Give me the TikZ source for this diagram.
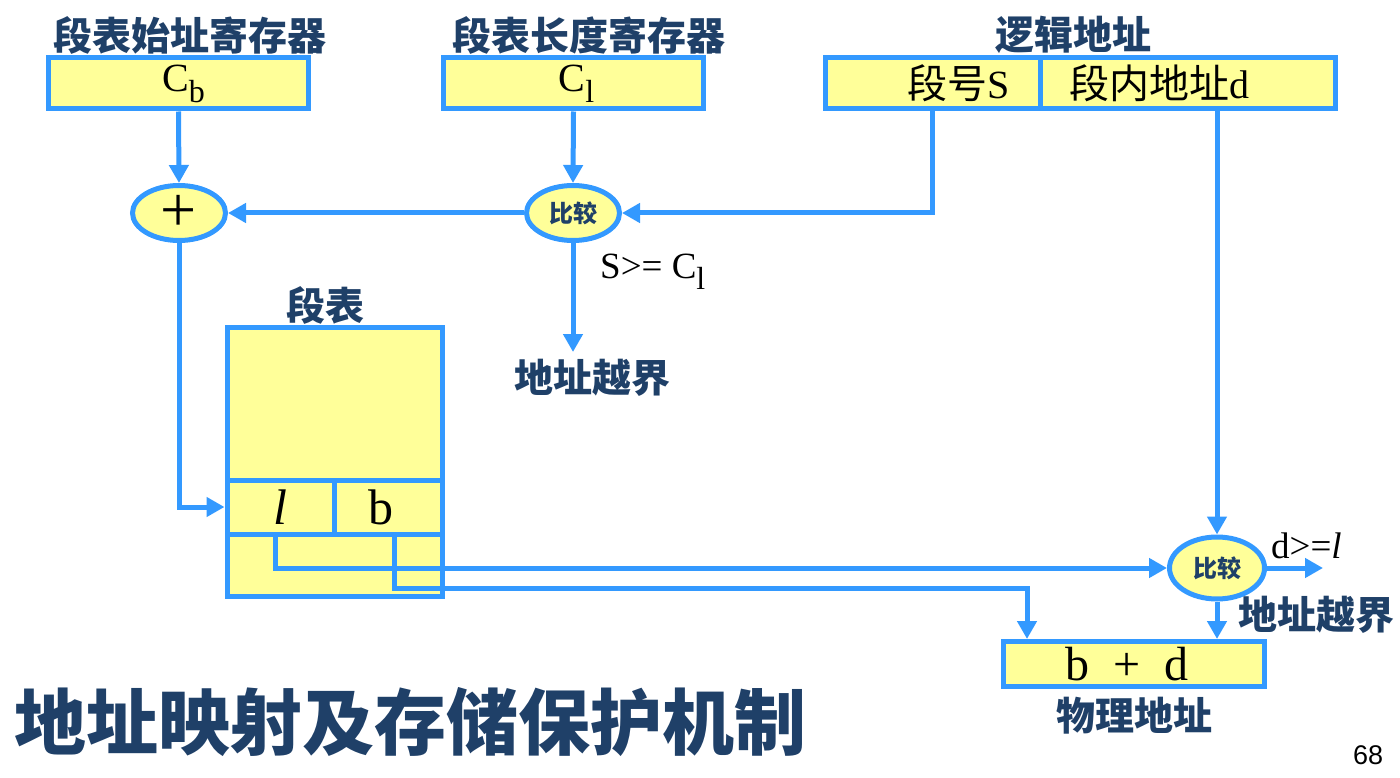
\documentclass[tikz,border=0pt]{standalone}
\usepackage{fontspec}
\setmainfont{Liberation Serif}
\setsansfont{Liberation Sans}
\newfontfamily\cjk{Noto Sans CJK SC}
\usetikzlibrary{shapes.geometric,arrows.meta}
\definecolor{lineblue}{RGB}{51,153,255}
\definecolor{boxyellow}{RGB}{255,255,153}
\definecolor{navy}{RGB}{31,64,104}
\newcommand\lowsub[1]{\raisebox{-11pt}{\fontsize{32}{32}\selectfont #1}}
\begin{document}
\begin{tikzpicture}[x=1pt,y=-1pt,
  reg/.style={draw=lineblue,line width=5pt,fill=boxyellow,minimum width=260pt,minimum height=51pt,inner sep=0pt,font=\fontsize{40}{40}\selectfont},
  cell/.style={draw=lineblue,line width=5pt,fill=boxyellow,minimum width=107pt,minimum height=54pt,inner sep=0pt,font=\fontsize{50}{50}\selectfont},
  oval/.style={ellipse,draw=lineblue,line width=5pt,fill=boxyellow,inner sep=0pt,minimum width=93pt,minimum height=55pt},
  lbl/.style={text=navy,font=\cjk\bfseries\fontsize{39}{42}\selectfont,inner sep=0pt},
  small/.style={text=navy,font=\cjk\bfseries\fontsize{24}{26}\selectfont,inner sep=0pt},
  txt/.style={inner sep=0pt,font=\fontsize{37}{38}\selectfont},
  conn/.style={draw=lineblue,line width=5pt},
  arr/.style={conn,-{Triangle[length=18pt,width=19pt]}}
]
\useasboundingbox (0,0) rectangle (1400,778);

% registers
\node[reg] (cb) at (178.5,83.5) {\hspace*{10pt}C\lowsub{b}};
\node[reg] (cl) at (573.5,83.5) {\hspace*{6pt}C\lowsub{l}};
\node[reg,minimum width=214.5pt] (segS) at (932.75,83.5) {\hspace*{52pt}{\cjk 段号}S};
\node[reg,minimum width=295.5pt] (segD) at (1187.75,83.5) {{\cjk 段内地址}d\hspace*{56pt}};

\node[lbl] (cbT) at (190,35) {段表始址寄存器};
\node[lbl] (clT) at (589,35) {段表长度寄存器};
\node[lbl] (laT) at (1073,35) {逻辑地址};

% ovals
\node[oval] (plus) at (179,213) {\fontsize{64}{64}\selectfont\raisebox{-2pt}{+}};
\node[oval] (cmp1) at (573,213) {};
\node[small] (cmp1t) at (cmp1) {比较};
\node[oval,minimum width=95pt,minimum height=62pt] (cmp2) at (1217,568) {};
\node[small] (cmp2t) at (cmp2) {比较};

% segment table
\node[draw=lineblue,line width=5pt,fill=boxyellow,minimum width=215pt,minimum height=268.5pt,inner sep=0pt] (st) at (334.5,461.75) {};
\node[cell] (lcell) at (280.5,507) {\textit{l}};
\node[cell,minimum width=108pt] (bcell) at (388,507) {b\hspace*{14pt}};
\node[lbl] (stT) at (325,305) {段表};

% physical address
\node[reg,minimum width=261pt,minimum height=45pt,font=\fontsize{48}{48}\selectfont] (phys) at (1134,664) {b\hspace{24pt}+\hspace{24pt}d\hspace*{14pt}};
\node[lbl] (physT) at (1134,716) {物理地址};

% out of bounds labels
\node[lbl] (oob1) at (592,378) {地址越界};
\node[lbl] (oob2) at (1316,615) {地址越界};
\node[txt,anchor=west] (sge) at (600,272) {S>= C\lowsub{l}};
\node[txt,anchor=west,font=\fontsize{37}{38}\selectfont] (dge) at (1271,546) {d>=\textit{l}};

% title and page number
\node[text=navy,font=\cjk\bfseries\fontsize{72}{76}\selectfont,inner sep=0pt] (title) at (410,722) {地址映射及存储保护机制};
\node[font=\sffamily\fontsize{27}{28}\selectfont,inner sep=0pt] (pg) at (1368,755) {68};

% coordinates
\coordinate (oobtip) at (573,352);
\coordinate (bturn) at (1027,588);
\coordinate (dout) at (1323,568);

% connectors
\draw[arr] (cb.south) -- (plus.north);
\draw[arr] (cl.south) -- (cmp1.north);
\draw[arr] (segS.south) |- (cmp1.east);
\draw[arr] (cmp1.west) -- (plus.east);
\draw[arr] (cmp1.south) -- (oobtip);
\draw[arr] (plus.south) |- (lcell.west);
\draw[arr] ([xshift=-5.5pt]lcell.south) |- (cmp2.west);
\draw[arr] ([xshift=6.5pt]bcell.south) |- (bturn) -- (bturn |- phys.north);
\draw[arr] (cmp2.north |- segD.south) -- (cmp2.north);
\draw[arr] (cmp2.east) -- (dout);
\draw[arr] (cmp2.south) -- (cmp2.south |- phys.north);
\end{tikzpicture}
\end{document}
